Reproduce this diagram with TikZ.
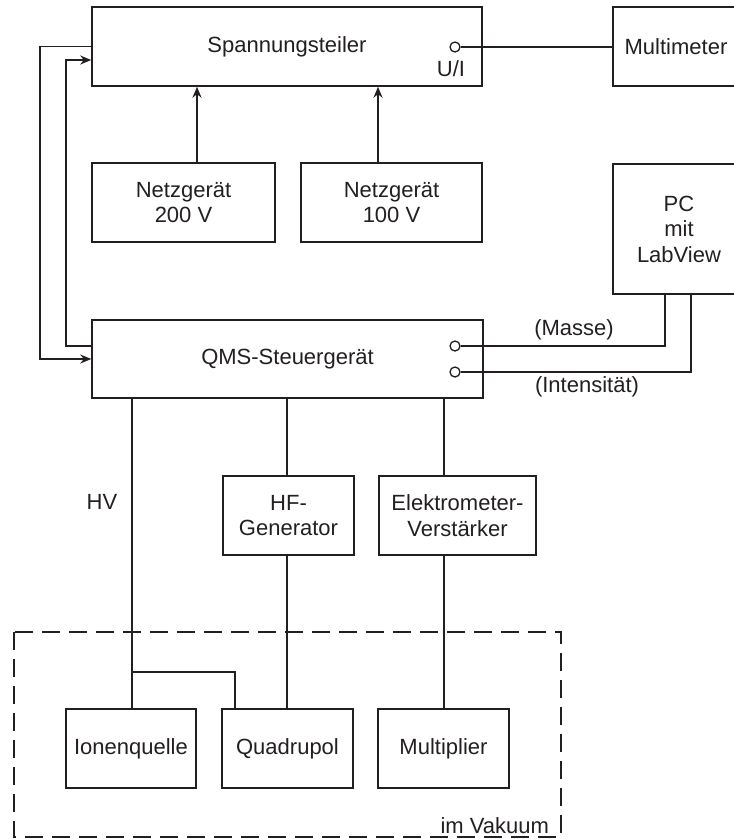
\documentclass[tikz,border=0pt]{standalone}
\usepackage{fontspec}
\setmainfont{Liberation Sans}
\usetikzlibrary{arrows.meta}
\definecolor{ink}{HTML}{231F20}
\tikzset{box/.style={draw,line width=1.5pt,align=center,inner sep=0pt},
	port/.style={circle,draw,fill=white,line width=1.3pt,minimum size=10pt,inner sep=0pt}}
\begin{document}
\begin{tikzpicture}[x=1pt,y=-1pt,color=ink,line width=1.5pt,
	font=\fontsize{22}{25.5}\selectfont]
	\useasboundingbox (0,0) rectangle (734,839);
	% Geraete
	\foreach \x/\y/\w/\h/\nm/\texn in {287/46.5/390/79/sp/Spannungsteiler,
		676/46.5/126/79/mm/Multimeter,
		183.5/202.5/183/79/ng2/{Netzgerät\\200 V},
		391.5/202.5/181/79/ng1/{Netzgerät\\100 V},
		679/229/132/130/pc/{PC\\mit\\LabView},
		287.5/359/391/78/qms/QMS-Steuergerät,
		288.5/515.5/131/79/hf/{HF-\\Generator},
		457.5/515.5/157/79/ev/{Elektrometer-\\Verstärker},
		131/748.5/130/79/iq/Ionenquelle,
		287.5/748.5/131/79/qp/Quadrupol,
		443.5/748.5/131/79/mp/Multiplier}
	\path (\x,\y) node[box,minimum width=\w pt,minimum height=\h pt](\nm){\texn};
	% Anschluesse
	\foreach \y/\nm in {47/ui,346/ms,372/in} \path (455,\y) node[port](\nm){};
	\draw (ui)--(mm.west |- ui);
	\draw (ms) -| (pc.south -| 665,0);
	\draw (in) -| (pc.south -| 691,0);
	\draw[-{Stealth[length=11pt,width=9pt]}] (ng2.north -| 197,0)--(sp.south -| 197,0);
	\draw[-{Stealth[length=11pt,width=9pt]}] (ng1.north -| 378,0)--(sp.south -| 378,0);
	\draw[-{Stealth[length=11pt,width=9pt]}] (sp.west)--(40,46.5)--(40,359)--(qms.west);
	\draw[-{Stealth[length=11pt,width=9pt]}] (qms.west |- 0,346)--(66,346)--(66,60)--(sp.west |- 0,60);
	\draw (qms.south -| 132,0)--(iq.north -| 132,0);
	\draw (132,672)--(235,672)--(qp.north -| 235,0);
	\draw (qms.south -| 287,0)--(hf.north -| 287,0) (hf.south -| 287,0)--(qp.north -| 287,0);
	\draw (qms.south -| 444,0)--(ev.north -| 444,0) (ev.south -| 444,0)--(mp.north -| 444,0);
	% Beschriftung
	\path (451,69)node(uil){U/I} (574,330)node(msl){(Masse)}
	(587,387)node(inl){(Intensität)} (102,502)node(hv){HV}
	(553,833)node[anchor=base east](vak){im Vakuum};
	\draw[dash pattern=on 18pt off 9pt] (14,632) rectangle (561,837);
\end{tikzpicture}
\end{document}
